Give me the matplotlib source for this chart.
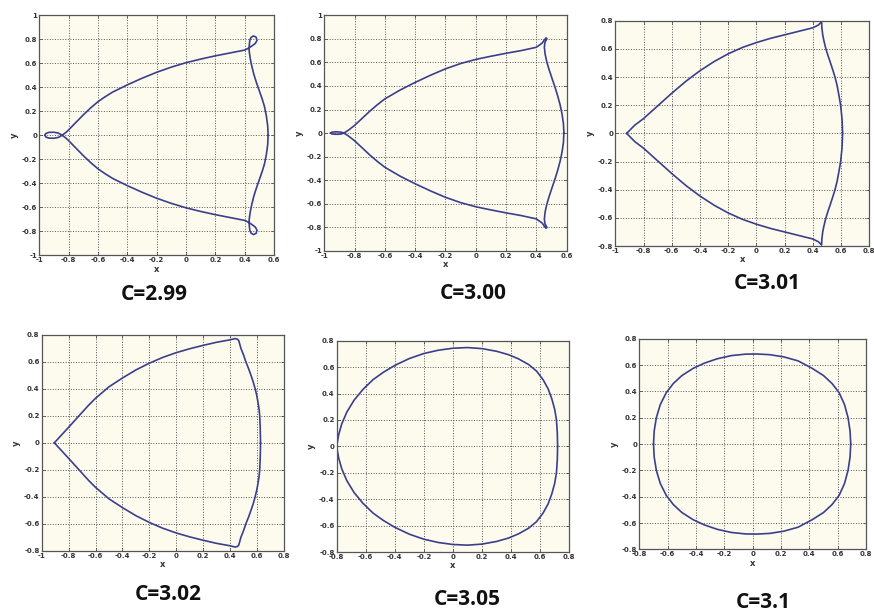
import numpy as np
import matplotlib.pyplot as plt

## Upper half of each curve (the curves are symmetric about y = 0)
## C = 2.99
x1 = [0.56, 0.557, 0.548, 0.535, 0.52, 0.50, 0.48, 0.462, 0.448, 0.438, 0.432, 0.43, 0.432, 0.435,
      0.443, 0.46, 0.478, 0.484, 0.472, 0.45, 0.43, 0.40, 0.30, 0.20, 0.10, 0.00, -0.10, -0.20,
      -0.30, -0.40, -0.50, -0.55, -0.60, -0.65, -0.70, -0.75, -0.80, -0.82, -0.845, -0.87, -0.90,
      -0.935, -0.955, -0.962]
y1 = [0.0, 0.08, 0.16, 0.24, 0.30, 0.37, 0.44, 0.51, 0.58, 0.64, 0.69, 0.72, 0.76, 0.79,
      0.815, 0.828, 0.818, 0.79, 0.765, 0.745, 0.728, 0.71, 0.686, 0.662, 0.635, 0.605, 0.568, 0.525,
      0.475, 0.42, 0.36, 0.322, 0.28, 0.228, 0.17, 0.108, 0.045, 0.022, 0.0, 0.018, 0.025,
      0.024, 0.015, 0.0]
## C = 3.00
x2 = [0.582, 0.579, 0.57, 0.557, 0.54, 0.522, 0.502, 0.484, 0.469, 0.458, 0.453, 0.457, 0.47, 0.465,
      0.452, 0.44, 0.40, 0.30, 0.20, 0.10, 0.00, -0.10, -0.20, -0.30, -0.40, -0.50, -0.60, -0.65,
      -0.70, -0.75, -0.80, -0.84, -0.87, -0.89, -0.91, -0.93, -0.95, -0.958]
y2 = [0.0, 0.08, 0.16, 0.24, 0.32, 0.395, 0.47, 0.54, 0.605, 0.67, 0.73, 0.77, 0.80, 0.808,
      0.79, 0.765, 0.728, 0.70, 0.677, 0.652, 0.625, 0.59, 0.545, 0.49, 0.43, 0.365, 0.29, 0.24,
      0.185, 0.125, 0.065, 0.025, 0.0, 0.008, 0.01, 0.01, 0.007, 0.0]
## C = 3.01
x3 = [0.611, 0.607, 0.597, 0.585, 0.572, 0.557, 0.54, 0.522, 0.505, 0.49, 0.478, 0.47, 0.464,
      0.462, 0.44, 0.40, 0.30, 0.20, 0.10, 0.00, -0.10, -0.20, -0.30, -0.40, -0.50, -0.60, -0.65,
      -0.70, -0.75, -0.80, -0.86, -0.89, -0.92]
y3 = [0.0, 0.10, 0.20, 0.27, 0.34, 0.40, 0.455, 0.51, 0.56, 0.61, 0.66, 0.70, 0.75,
      0.793, 0.77, 0.75, 0.725, 0.70, 0.675, 0.645, 0.61, 0.565, 0.51, 0.445, 0.37, 0.285, 0.24,
      0.195, 0.15, 0.105, 0.06, 0.03, 0.0]
## C = 3.02
x4 = [0.626, 0.624, 0.62, 0.615, 0.607, 0.598, 0.586, 0.572, 0.555, 0.537, 0.517, 0.50, 0.48,
      0.465, 0.455, 0.436, 0.40, 0.30, 0.20, 0.10, 0.00, -0.10, -0.20, -0.30, -0.40, -0.50,
      -0.60, -0.65, -0.70, -0.75, -0.80, -0.86, -0.906]
y4 = [0.0, 0.10, 0.20, 0.25, 0.30, 0.35, 0.40, 0.45, 0.50, 0.55, 0.60, 0.65, 0.70,
      0.755, 0.768, 0.772, 0.763, 0.745, 0.722, 0.697, 0.668, 0.633, 0.59, 0.54, 0.48, 0.415,
      0.33, 0.28, 0.225, 0.17, 0.115, 0.05, 0.0]
## C = 3.05
x5 = [0.72, 0.718, 0.712, 0.70, 0.68, 0.655, 0.62, 0.575, 0.52, 0.45, 0.38, 0.30, 0.20, 0.10,
      0.00, -0.10, -0.20, -0.30, -0.40, -0.48, -0.55, -0.62, -0.68, -0.73, -0.765, -0.787, -0.80]
y5 = [0.0, 0.10, 0.20, 0.28, 0.36, 0.435, 0.505, 0.57, 0.62, 0.663, 0.695, 0.72, 0.74, 0.748,
      0.743, 0.728, 0.703, 0.665, 0.613, 0.56, 0.505, 0.43, 0.35, 0.26, 0.17, 0.085, 0.0]
## C = 3.1
x6 = [0.692, 0.687, 0.673, 0.648, 0.61, 0.56, 0.50, 0.42, 0.32, 0.22, 0.12, 0.03, -0.05, -0.15,
      -0.25, -0.34, -0.42, -0.50, -0.56, -0.61, -0.652, -0.68, -0.695, -0.70]
y6 = [0.0, 0.10, 0.20, 0.30, 0.39, 0.46, 0.52, 0.575, 0.632, 0.662, 0.679, 0.684, 0.683, 0.672,
      0.648, 0.615, 0.575, 0.52, 0.46, 0.39, 0.30, 0.20, 0.10, 0.0]

titles = ['C=2.99', 'C=3.00', 'C=3.01', 'C=3.02', 'C=3.05', 'C=3.1']
xranges = [(-1, 0.6), (-1, 0.6), (-1, 0.8), (-1, 0.8), (-0.8, 0.8), (-0.8, 0.8)]
yranges = [(-1, 1), (-1, 1), (-0.8, 0.8), (-0.8, 0.8), (-0.8, 0.8), (-0.8, 0.8)]
curves = [(x1, y1), (x2, y2), (x3, y3), (x4, y4), (x5, y5), (x6, y6)]

# axes boxes in figure fractions, and title positions
boxes = [[0.045, 0.583, 0.2685, 0.392], [0.371, 0.590, 0.2773, 0.3851],
         [0.704, 0.598, 0.2906, 0.3681], [0.0477, 0.100, 0.2772, 0.3529],
         [0.3852, 0.098, 0.2661, 0.3453], [0.7315, 0.1024, 0.2594, 0.3441]]
title_pos = [(0.177, 0.518), (0.541, 0.521), (0.878, 0.537),
             (0.192, 0.028), (0.535, 0.020), (0.873, 0.016)]

fig = plt.figure(figsize=(8.74, 6.12), dpi=100)
fig.patch.set_facecolor('white')

for i in range(6):
    ax = fig.add_axes(boxes[i])
    ax.set_facecolor('#fdfbee')
    cx = np.array(curves[i][0])
    cy = np.array(curves[i][1])
    ax.plot(cx, cy, color='#3a3f8c', lw=1.2)
    ax.plot(cx, -cy, color='#3a3f8c', lw=1.2)
    ax.set_xlim(*xranges[i])
    ax.set_ylim(*yranges[i])
    xt = np.arange(round(xranges[i][0] * 10), round(xranges[i][1] * 10) + 1, 2) / 10
    yt = np.arange(round(yranges[i][0] * 10), round(yranges[i][1] * 10) + 1, 2) / 10
    ax.set_xticks(xt)
    ax.set_yticks(yt)
    ax.set_xticklabels(['%g' % v for v in xt])
    ax.set_yticklabels(['%g' % v for v in yt])
    ax.grid(True, linestyle=':', color='#555555', lw=0.7)
    ax.tick_params(direction='in', length=2, width=0.5, labelsize=5, pad=1.5,
                   colors='#333333', top=True, right=True)
    for lab in ax.get_xticklabels() + ax.get_yticklabels():
        lab.set_fontweight('bold')
    for s in ax.spines.values():
        s.set_color('#555555')
        s.set_linewidth(0.9)
    ax.set_xlabel('x', fontsize=6, fontweight='bold', color='#333333', labelpad=1)
    ax.set_ylabel('y', fontsize=6, fontweight='bold', color='#333333', labelpad=2)
    fig.text(title_pos[i][0], title_pos[i][1], titles[i], fontsize=15, fontweight='bold',
             family='Open Sans', color='#111111', ha='center', va='center')

plt.savefig('out.png', dpi=100)
